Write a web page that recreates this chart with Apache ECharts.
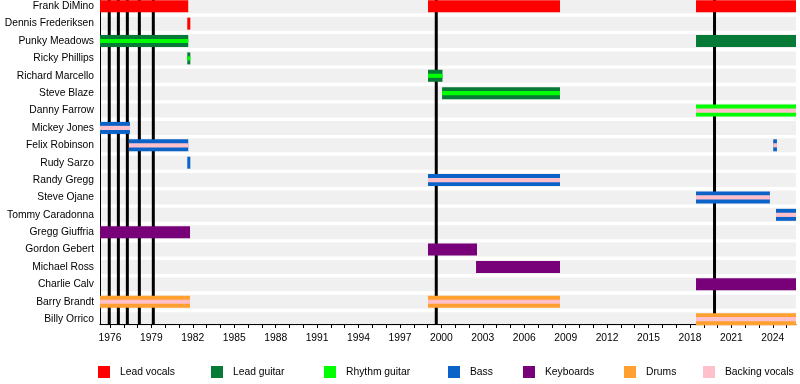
<!DOCTYPE html>
<html><head><meta charset="utf-8">
<script src="https://cdn.jsdelivr.net/npm/echarts@6/dist/echarts.min.js"></script>
<style>html,body{margin:0;padding:0;background:#fff}#c{width:800px;height:384px}</style>
</head><body><div id="c"></div>
<script>
// ---- data ----
const members = ["Frank DiMino","Dennis Frederiksen","Punky Meadows","Ricky Phillips","Richard Marcello","Steve Blaze","Danny Farrow","Mickey Jones","Felix Robinson","Rudy Sarzo","Randy Gregg","Steve Ojane","Tommy Caradonna","Gregg Giuffria","Gordon Gebert","Michael Ross","Charlie Calv","Barry Brandt","Billy Orrico"];
const periodStart = 1975.28;
const periodEnd = 2025.68;
const xTickLabels = [1976,1979,1982,1985,1988,1991,1994,1997,2000,2003,2006,2009,2012,2015,2018,2021,2024];
const albumReleases = [1975.95,1976.61,1977.26,1978.13,1979.14,1999.63,2019.78];
const roles = ["Lead vocals","Lead guitar","Rhythm guitar","Bass","Keyboards","Drums","Backing vocals"];

const leadVocals = [["Frank DiMino",1975.28,1981.67],["Frank DiMino",1999.03,2008.59],["Frank DiMino",2018.44,2025.68],["Dennis Frederiksen",1981.60,1981.82]];
const leadGuitar = [["Punky Meadows",1975.28,1981.67],["Punky Meadows",2018.44,2025.68],["Ricky Phillips",1981.60,1981.82],["Richard Marcello",1999.03,2000.08],["Steve Blaze",2000.05,2008.59]];
const rhythmGuitar = [["Punky Meadows",1975.28,1981.67],["Ricky Phillips",1981.60,1981.82],["Richard Marcello",1999.03,2000.08],["Steve Blaze",2000.05,2008.59],["Danny Farrow",2018.44,2025.68]];
const bass = [["Mickey Jones",1975.28,1977.45],["Felix Robinson",1977.38,1981.67],["Felix Robinson",2024.03,2024.30],["Rudy Sarzo",1981.60,1981.82],["Randy Gregg",1999.03,2008.59],["Steve Ojane",2018.44,2023.79],["Tommy Caradonna",2024.23,2025.68]];
const keyboards = [["Gregg Giuffria",1975.28,1981.80],["Gordon Gebert",1999.03,2002.58],["Michael Ross",2002.51,2008.59],["Charlie Calv",2018.44,2025.68]];
const drums = [["Barry Brandt",1975.28,1981.80],["Barry Brandt",1999.03,2008.59],["Billy Orrico",2018.44,2025.68]];
const backingVocals = [["Mickey Jones",1975.28,1977.45],["Felix Robinson",1977.38,1981.67],["Felix Robinson",2024.03,2024.30],["Randy Gregg",1999.03,2008.59],["Steve Ojane",2018.44,2023.79],["Tommy Caradonna",2024.23,2025.68],["Barry Brandt",1975.28,1981.80],["Barry Brandt",1999.03,2008.59],["Danny Farrow",2018.44,2025.68],["Billy Orrico",2018.44,2025.68]];

// ---- styles ----
const roleColors = {"Lead vocals":"#ff0000","Lead guitar":"#087a38","Rhythm guitar":"#00ff00","Bass":"#0b63c8","Keyboards":"#780078","Drums":"#ffa030","Backing vocals":"#ffc0cb"};
const FONT = "'Liberation Sans', Arial, sans-serif";

function overlaps(list, s){
  return list.some(o => o[0]===s[0] && o[1] < s[2] && o[2] > s[1]);
}
const roleData = {
  "Lead vocals": leadVocals.map(s=>[s,false]),
  "Lead guitar": leadGuitar.map(s=>[s,false]),
  "Rhythm guitar": rhythmGuitar.map(s=>[s, overlaps(leadGuitar, s)]),
  "Bass": bass.map(s=>[s,false]),
  "Keyboards": keyboards.map(s=>[s,false]),
  "Drums": drums.map(s=>[s,false]),
  "Backing vocals": backingVocals.map(s=>[s,true])
};

function stintSeries(name, idx){
  return {
    type:'custom', name, z: 3+idx,
    itemStyle:{color: roleColors[name]},
    encode:{x:[0,1], y:2},
    data: roleData[name].map(([s,inner]) => [s[1], s[2], members.indexOf(s[0]), inner?1:0]),
    renderItem(params, api){
      const row = api.value(2);
      const a = api.coord([api.value(0), row]);
      const b = api.coord([api.value(1), row]);
      const band = api.size([0,1])[1];
      const h = api.value(3) ? band*0.24 : band*0.69;
      return {type:'rect', shape:{x:a[0], y:a[1]-h/2, width:Math.max(b[0]-a[0],1), height:h},
        style:{fill: api.visual('color')}};
    }
  };
}

const series = [
  { type:'custom', name:'stripes', z:0, silent:true,
    encode:{x:0, y:1},
    data: members.map((m,i)=>[periodStart, i]),
    renderItem(params, api){
      const cs = params.coordSys;
      const p = api.coord([api.value(0), api.value(1)]);
      const band = api.size([0,1])[1];
      const h = band - 3.4;
      return {type:'rect', shape:{x:cs.x, y:p[1]-h/2, width:cs.width, height:h}, style:{fill:'#f0f0f0'}};
    }
  },
  { type:'custom', name:'albums', z:1, silent:true,
    encode:{x:0},
    data: albumReleases.map(d=>[d]),
    renderItem(params, api){
      const cs = params.coordSys;
      const p = api.coord([api.value(0), 0]);
      return {type:'line', shape:{x1:p[0], y1:cs.y, x2:p[0], y2:cs.y+cs.height}, style:{stroke:'#000', lineWidth:3}};
    }
  },
  ...roles.map((r,i)=>stintSeries(r,i))
];

const legendLeft = [98,211,324,448,523,624,703];
const option = {
  animation:false,
  backgroundColor:'#fff',
  textStyle:{fontFamily:FONT},
  grid:{left:100, right:4, top:0, bottom:60},
  xAxis:{type:'value', min:periodStart, max:periodEnd, position:'bottom',
    axisLine:{show:true, onZero:false, lineStyle:{color:'#000', width:1}},
    axisTick:{show:true, length:4, lineStyle:{color:'#000'},
      customValues: Array.from({length:50},(_,i)=>1976+i)},
    axisLabel:{customValues:xTickLabels, formatter:v=>String(v), fontSize:10.3, color:'#000', margin:9, fontFamily:FONT},
    splitLine:{show:false}},
  yAxis:{type:'value', inverse:true, min:-0.36, max:18.28, position:'left',
    axisLine:{show:true, onZero:false, lineStyle:{color:'#000', width:1}},
    axisTick:{show:false},
    axisLabel:{customValues: members.map((m,i)=>i), formatter:v=>members[Math.round(v)], fontSize:10.3, color:'#000', margin:6, fontFamily:FONT},
    splitLine:{show:false}},
  legend: roles.map((r,i)=>({data:[r], left:legendLeft[i], top:366, padding:0, itemWidth:12, itemHeight:12, icon:'rect',
    textStyle:{fontSize:10.3, color:'#000', fontFamily:FONT, padding:[0,0,0,5]}, selectedMode:false})),
  series
};
const chart = echarts.init(document.getElementById('c'), null, {renderer:'canvas'});
chart.setOption(option);
</script>
</body></html>
